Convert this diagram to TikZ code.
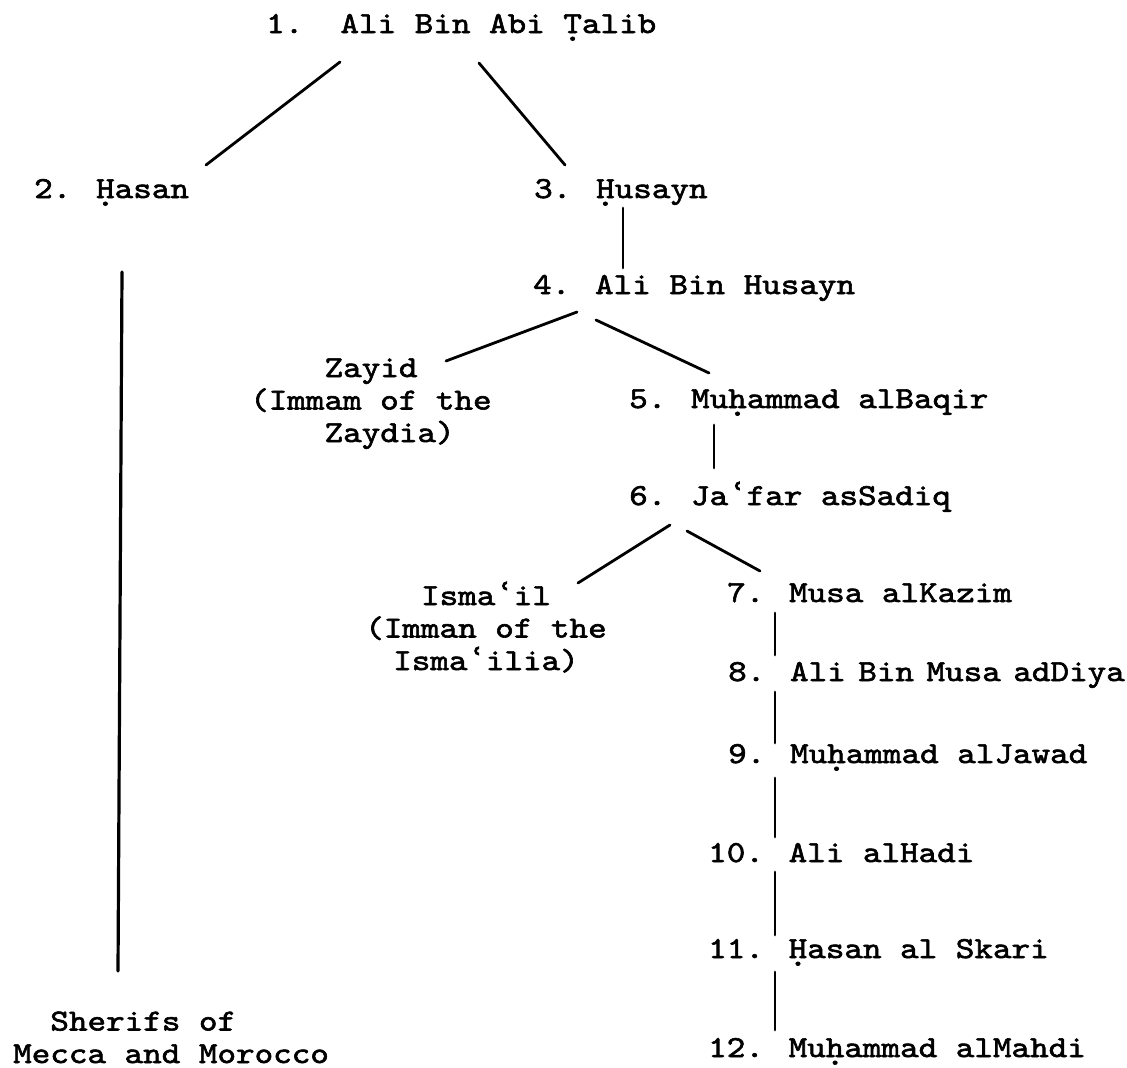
\documentclass[tikz,border=0pt]{standalone}
\usepackage{fontspec}
\setmainfont{lmmono10-regular.otf}[FakeStretch=1.16, FakeBold=2]
\newfontfamily\ayfont{DejaVu Sans Mono}[FakeBold=3]
\usetikzlibrary{calc}
\newcommand\udot[1]{#1\llap{\makebox[0.61em]{\raisebox{-0.25em}{.}}}}
\newcommand\ayn{{\ayfont ʿ}}
\newcommand\nsp{\hspace{0.41em}}
\begin{document}
\begin{tikzpicture}[x=1pt,y=-1pt,
  lbl/.style={inner sep=0pt, font=\fontsize{30.5}{32.5}\selectfont, anchor=base west},
  ln/.style={line width=2.8pt, line cap=round}]
\useasboundingbox (0,0) rectangle (1127,1068);
\node[lbl] (n1) at (266,33) {1.\ \ Ali Bin Abi \udot{T}alib};
\node[lbl] (n2) at (34,198) {2. \udot{H}asan};
\node[lbl] (n3) at (534,198) {3. \udot{H}usayn};
\node[lbl] (n4) at (533,294) {4. Ali Bin Husayn};
\node[lbl, align=left] (zayid) at (250,442) {\hspace*{2.44em}Zayid\\(Immam of the\\\hspace*{2.44em}Zaydia)};
\node[lbl] (n5) at (629,408) {5. Mu\udot{h}ammad alBaqir};
\node[lbl] (n6) at (629,505) {6. Ja\ayn far asSadiq};
\node[lbl, align=center, anchor=base] (isma) at (486,670) {Isma\ayn il\\(Imman of the\\Isma\ayn ilia)};
\node[lbl] (n7) at (727,602) {7. Musa alKazim};
\node[lbl] (n8) at (728,681) {8. Ali\nsp Bin\nsp Musa\nsp adDiya};
\node[lbl] (n9) at (728,763) {9. Mu\udot{h}ammad alJawad};
\node[lbl] (n10) at (708,862) {10. Ali alHadi};
\node[lbl] (n11) at (708,958) {11. \udot{H}asan al Skari};
\node[lbl] (n12) at (708,1057) {12. Mu\udot{h}ammad alMahdi};
\node[lbl, align=left] (sh) at (13,1063) {\hspace*{1.22em}Sherifs of\\Mecca and Morocco};
\draw[ln] ($(n1.base west)+(74,29)$) -- ($(n2.base west)+(172,-33)$);
\draw[ln] ($(n1.base west)+(213,30)$) -- ($(n3.base west)+(31,-33)$);
\draw[ln] ($(n3.base west)+(89,10)$) -- ($(n4.base west)+(90,-26)$);
\draw[ln, line width=3.2pt] ($(n2.base west)+(88,74)$) -- ($(sh.base west)+(105,-92)$);
\draw[ln] ($(n4.base west)+(44,18)$) -- ($(zayid.base west)+(196,-81)$);
\draw[ln] ($(n4.base west)+(63,26)$) -- ($(n5.base west)+(80,-35)$);
\draw[ln] ($(n5.base west)+(85,17)$) -- ($(n6.base west)+(85,-37)$);
\draw[ln] ($(n6.base west)+(41,20)$) -- ($(isma.base)+(92,-87)$);
\draw[ln] ($(n6.base west)+(58,26)$) -- ($(n7.base west)+(33,-31)$);
\draw[ln] ($(n7.base west)+(48,11)$) -- ($(n8.base west)+(47,-26)$);
\draw[ln] ($(n8.base west)+(47,11)$) -- ($(n9.base west)+(47,-20)$);
\draw[ln] ($(n9.base west)+(47,15)$) -- ($(n10.base west)+(67,-25)$);
\draw[ln] ($(n10.base west)+(67,10)$) -- ($(n11.base west)+(67,-23)$);
\draw[ln] ($(n11.base west)+(67,14)$) -- ($(n12.base west)+(67,-27)$);
\end{tikzpicture}
\end{document}
